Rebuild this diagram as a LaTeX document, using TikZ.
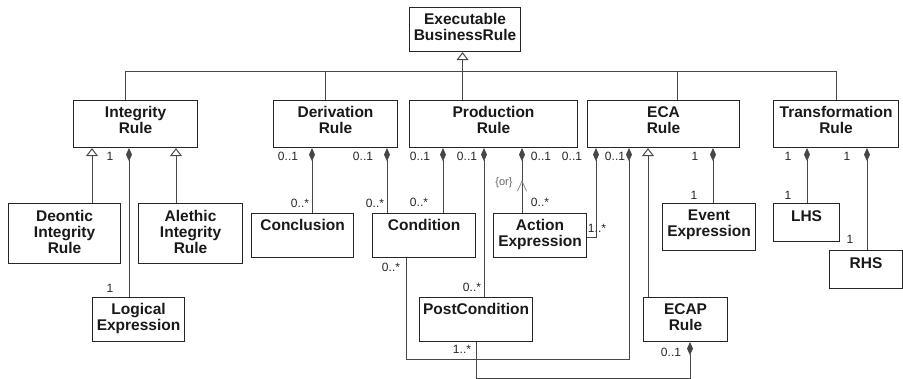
\documentclass[tikz,border=0pt]{standalone}
\usepackage{fontspec}
\setmainfont{Liberation Sans}
\usetikzlibrary{arrows.meta}
\begin{document}
\begin{tikzpicture}[x=1pt,y=-1pt,
  box/.style={draw=black!85, line width=1.1pt, inner sep=0pt, anchor=north west},
  txt/.style={font=\fontsize{15.5}{16}\selectfont\bfseries, align=center, inner sep=0pt, anchor=north, text=black!90},
  mult/.style={font=\fontsize{12}{13}\selectfont, inner sep=0pt, text=black!85},
  conn/.style={draw=black!72, line width=1pt},
  comp/.style={conn, arrows={Diamond[length=13pt,width=6pt,fill=black!72]-}},
  gen/.style={conn, arrows={Triangle[length=8pt,width=12pt,fill=white]-}},
]
\useasboundingbox (0,0) rectangle (903,379);
% ---- boxes
\node[box, minimum width=111pt, minimum height=44pt] (exec) at (409,7) {};
\node[box, minimum width=124pt, minimum height=47pt] (intr) at (73,100) {};
\node[box, minimum width=124pt, minimum height=47pt] (deriv) at (273,100) {};
\node[box, minimum width=168pt, minimum height=47pt] (prod) at (409,100) {};
\node[box, minimum width=152pt, minimum height=47pt] (eca) at (587,100) {};
\node[box, minimum width=125pt, minimum height=47pt] (trans) at (773,100) {};
\node[box, minimum width=112pt, minimum height=60pt] (deon) at (8,203) {};
\node[box, minimum width=104pt, minimum height=60pt] (alet) at (138,203) {};
\node[box, minimum width=92pt, minimum height=44pt] (logic) at (92,297) {};
\node[box, minimum width=102pt, minimum height=44pt] (concl) at (251,213) {};
\node[box, minimum width=103pt, minimum height=44pt] (cond) at (372,213) {};
\node[box, minimum width=93pt, minimum height=44pt] (action) at (493,213) {};
\node[box, minimum width=113pt, minimum height=44pt] (post) at (419,297) {};
\node[box, minimum width=84pt, minimum height=44pt] (ecap) at (643,297) {};
\node[box, minimum width=93pt, minimum height=47pt] (event) at (662,203) {};
\node[box, minimum width=66pt, minimum height=38pt] (lhs) at (773,203) {};
\node[box, minimum width=73pt, minimum height=38pt] (rhs) at (829,250) {};
% ---- box texts
\node[txt] (exec-t) at ([yshift=-6.5pt]exec.north) {Executable\\BusinessRule};
\node[txt] (intr-t) at ([yshift=-6.5pt]intr.north) {Integrity\\Rule};
\node[txt] (deriv-t) at ([yshift=-6.5pt]deriv.north) {Derivation\\Rule};
\node[txt] (prod-t) at ([yshift=-6.5pt]prod.north) {Production\\Rule};
\node[txt] (eca-t) at ([yshift=-6.5pt]eca.north) {ECA\\Rule};
\node[txt] (trans-t) at ([yshift=-6.5pt]trans.north) {Transformation\\Rule};
\node[txt] (deon-t) at ([yshift=-7pt]deon.north) {Deontic\\Integrity\\Rule};
\node[txt] (alet-t) at ([yshift=-7pt]alet.north) {Alethic\\Integrity\\Rule};
\node[txt] (logic-t) at ([yshift=-6.5pt]logic.north) {Logical\\Expression};
\node[txt] (concl-t) at ([yshift=-6.5pt]concl.north) {Conclusion};
\node[txt] (cond-t) at ([yshift=-6.5pt]cond.north) {Condition};
\node[txt] (action-t) at ([yshift=-6.5pt]action.north) {Action\\Expression};
\node[txt] (post-t) at ([yshift=-6.5pt]post.north) {PostCondition};
\node[txt] (ecap-t) at ([yshift=-6.5pt]ecap.north) {ECAP\\Rule};
\node[txt] (event-t) at ([yshift=-7pt]event.north) {Event\\Expression};
\node[txt] (lhs-t) at ([yshift=-7pt]lhs.north) {LHS};
\node[txt] (rhs-t) at ([yshift=-7pt]rhs.north) {RHS};
% ---- connector anchor points
\coordinate (bus) at (0,72);
\coordinate (bIR) at ([xshift=52pt]intr.north west);
\coordinate (bDR) at ([xshift=52pt]deriv.north west);
\coordinate (bEC) at ([xshift=90pt]eca.north west);
\coordinate (bTR) at ([xshift=63pt]trans.north west);
\coordinate (bEX) at ([xshift=-2.5pt]exec.south);
\coordinate (iT1) at ([xshift=19pt]intr.south west);
\coordinate (iD) at ([xshift=56pt]intr.south west);
\coordinate (iT2) at ([xshift=103pt]intr.south west);
\coordinate (dD1) at ([xshift=39pt]deriv.south west);
\coordinate (dD2) at ([xshift=114pt]deriv.south west);
\coordinate (pD1) at ([xshift=34pt]prod.south west);
\coordinate (pD2) at ([xshift=75pt]prod.south west);
\coordinate (pD3) at ([xshift=113pt]prod.south west);
\coordinate (eD1) at ([xshift=9pt]eca.south west);
\coordinate (eD2) at ([xshift=42pt]eca.south west);
\coordinate (eT) at ([xshift=61pt]eca.south west);
\coordinate (eD3) at ([xshift=126pt]eca.south west);
\coordinate (tD1) at ([xshift=34pt]trans.south west);
\coordinate (tD2) at ([xshift=94pt]trans.south west);
\coordinate (cB) at ([xshift=34pt]cond.south west);
\coordinate (ecD) at ([xshift=47pt]ecap.south west);
\coordinate (aE) at ([yshift=-2pt]action.east);
\coordinate (orTip) at ([yshift=-33pt]pD3);
% ---- generalisation to Executable BusinessRule
\draw[gen] (bEX) -- (bEX |- prod.north);
\draw[conn] (bIR) |- (bus -| bTR) -- (bTR);
\draw[conn] (bDR) -- (bus -| bDR);
\draw[conn] (bEC) -- (bus -| bEC);
% ---- Integrity Rule
\draw[gen] (iT1) -- (iT1 |- deon.north);
\draw[gen] (iT2) -- (iT2 |- alet.north);
\draw[comp] (iD) -- (iD |- logic.north);
% ---- Derivation Rule
\draw[comp] (dD1) -- (dD1 |- concl.north);
\draw[comp] (dD2) -- (dD2 |- cond.north);
% ---- Production Rule
\draw[comp] (pD1) -- (pD1 |- cond.north);
\draw[comp] (pD2) -- (pD2 |- post.north);
\draw[comp] (pD3) -- (pD3 |- action.north);
\draw[draw=black!45, line width=0.8pt] ([xshift=-4.5pt,yshift=-10pt]orTip) -- (orTip) -- ([xshift=4.5pt,yshift=-10pt]orTip);
% ---- ECA Rule
\draw[comp] (eD1) |- (aE);
\draw[comp] (eD2) |- ([yshift=-17pt]post.south) -| (cB);
\draw[gen] (eT) -- (eT |- ecap.north);
\draw[comp] (eD3) -- (eD3 |- event.north);
\draw[comp] (ecD) |- ([yshift=-36pt]post.south) -- (post.south);
% ---- Transformation Rule
\draw[comp] (tD1) -- (tD1 |- lhs.north);
\draw[comp] (tD2) -- (tD2 |- rhs.north);
% ---- multiplicities
\node[mult] (m1) at (110,156) {1};
\node[mult] (m2) at (288,156) {0..1};
\node[mult] (m3) at (363,156) {0..1};
\node[mult] (m4) at (420,156) {0..1};
\node[mult] (m5) at (467,156) {0..1};
\node[mult] (m6) at (541,156) {0..1};
\node[mult] (m7) at (572,156) {0..1};
\node[mult] (m8) at (615,156) {0..1};
\node[mult] (m9) at (695,156) {1};
\node[mult] (m10) at (788,156) {1};
\node[mult] (m11) at (847,156) {1};
\node[mult] (m12) at (300,203) {0..*};
\node[mult] (m13) at (375,203) {0..*};
\node[mult] (m14) at (419,202) {0..*};
\node[mult] (m15) at (540,202) {0..*};
\node[mult, font=\fontsize{11}{12}\selectfont, text=black!60] (m16) at (504,183) {\{or\}};
\node[mult] (m17) at (597,228) {1..*};
\node[mult] (m18) at (391,267) {0..*};
\node[mult] (m19) at (472,287) {0..*};
\node[mult] (m20) at (462,349) {1..*};
\node[mult] (m21) at (671,352) {0..1};
\node[mult] (m22) at (694,195) {1};
\node[mult] (m23) at (788,195) {1};
\node[mult] (m24) at (850,239) {1};
\node[mult] (m25) at (110,288) {1};
\end{tikzpicture}
\end{document}
